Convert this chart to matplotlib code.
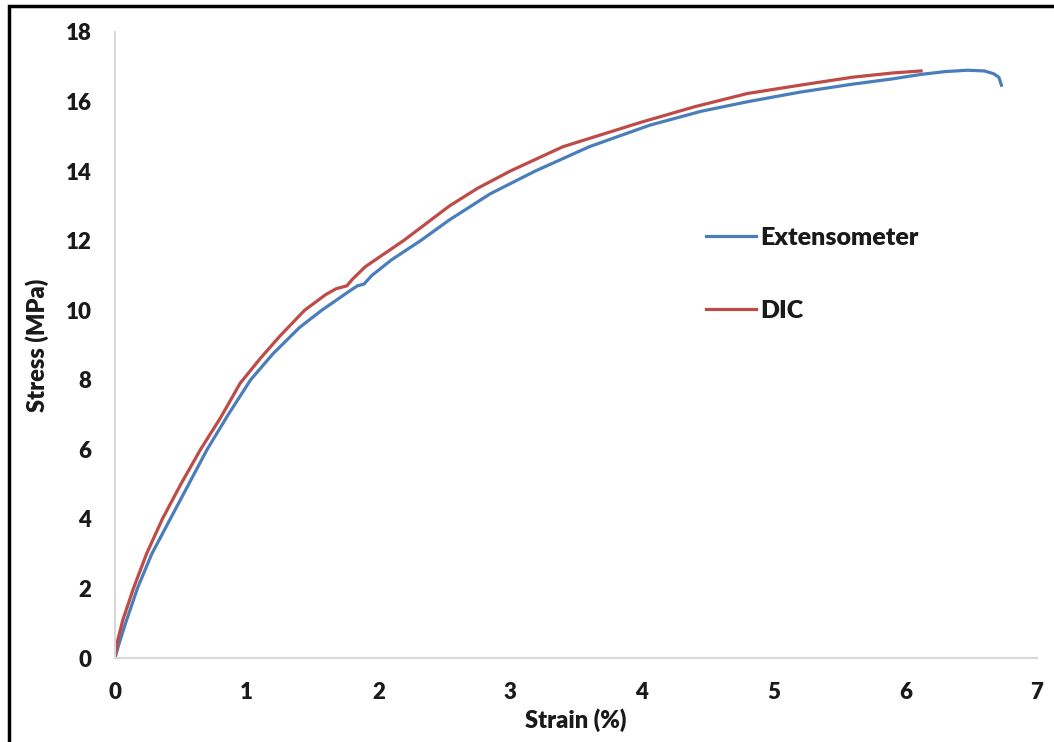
import matplotlib
matplotlib.use('Agg')
import matplotlib.pyplot as plt
from matplotlib.patches import Rectangle

# strain (%) / stress (MPa)
ext_strain = [0, 0.03, 0.08, 0.17, 0.28, 0.42, 0.56, 0.70, 0.86, 1.03, 1.2, 1.4,
              1.57, 1.78, 1.84, 1.89, 1.95, 2.1, 2.32, 2.54, 2.85, 3.19, 3.6,
              4.06, 4.45, 4.81, 5.2, 5.6, 5.9, 6.12, 6.3, 6.47, 6.6, 6.67, 6.71, 6.73]
ext_stress = [0, 0.4, 1.0, 2.0, 3.0, 4.0, 5.0, 6.0, 7.0, 8.0, 8.75, 9.5,
              10.0, 10.55, 10.7, 10.75, 11.0, 11.45, 12.0, 12.6, 13.35, 14.0, 14.7,
              15.32, 15.72, 16.0, 16.27, 16.5, 16.65, 16.78, 16.86, 16.9, 16.88, 16.8, 16.7, 16.47]

dic_strain = [0, 0.02, 0.06, 0.14, 0.24, 0.36, 0.5, 0.65, 0.8, 0.95, 1.1, 1.25,
              1.44, 1.6, 1.68, 1.76, 1.8, 1.9, 2.19, 2.54, 2.75, 3.0, 3.4, 3.99,
              4.4, 4.8, 5.2, 5.6, 5.9, 6.12]
dic_stress = [0, 0.5, 1.1, 2.0, 3.0, 4.0, 5.0, 6.0, 6.9, 7.9, 8.6, 9.25,
              10.0, 10.45, 10.62, 10.7, 10.88, 11.25, 12.0, 13.0, 13.5, 14.0, 14.7, 15.4,
              15.85, 16.23, 16.47, 16.7, 16.82, 16.88]

x_ticks = [0, 1, 2, 3, 4, 5, 6, 7]
y_ticks = [0, 2, 4, 6, 8, 10, 12, 14, 16, 18]

plt.rcParams['font.family'] = ['Lato', 'DejaVu Sans']
plt.rcParams['font.weight'] = 'heavy'

fig = plt.figure(figsize=(10.54, 7.42), dpi=100, facecolor='white')
ax = fig.add_axes([0.1091, 0.1132, 0.8748, 0.8437])

ax.plot(ext_strain, ext_stress, color='#4A7EBB', lw=2.3, label='Extensometer')
ax.plot(dic_strain, dic_stress, color='#BE4B48', lw=2.3, label='DIC')

ax.set_xlim(0, 7)
ax.set_ylim(0, 18)
ax.set_xticks(x_ticks)
ax.set_yticks(y_ticks)
ax.tick_params(length=0, labelsize=16, pad=17, labelcolor='#1a1a1a')
for lab in ax.get_xticklabels() + ax.get_yticklabels():
    lab.set_fontweight('heavy')

for side in ['top', 'right']:
    ax.spines[side].set_visible(False)
for side in ['left', 'bottom']:
    ax.spines[side].set_color('#D9D9D9')
    ax.spines[side].set_linewidth(1.5)

ax.set_xlabel('Strain (%)', fontsize=17, fontweight='heavy', labelpad=4, color='#1a1a1a')
ax.set_ylabel('Stress (MPa)', fontsize=17, fontweight='heavy', labelpad=12, color='#1a1a1a')

leg = ax.legend(loc='upper left', bbox_to_anchor=(0.617, 0.725), frameon=False,
                fontsize=18, handlelength=2.0, handletextpad=0.15, labelspacing=2.05)
for t in leg.get_texts():
    t.set_fontweight('heavy')
    t.set_color('#1a1a1a')

# outer black frame (only left and top visible in the original)
frame = Rectangle((9 / 1054, -0.1), 1.2, 0.992 + 0.1, transform=fig.transFigure,
                  fill=False, edgecolor='black', lw=2.5, clip_on=False)
fig.patches.append(frame)

fig.savefig('out.png', dpi=100, facecolor='white')
